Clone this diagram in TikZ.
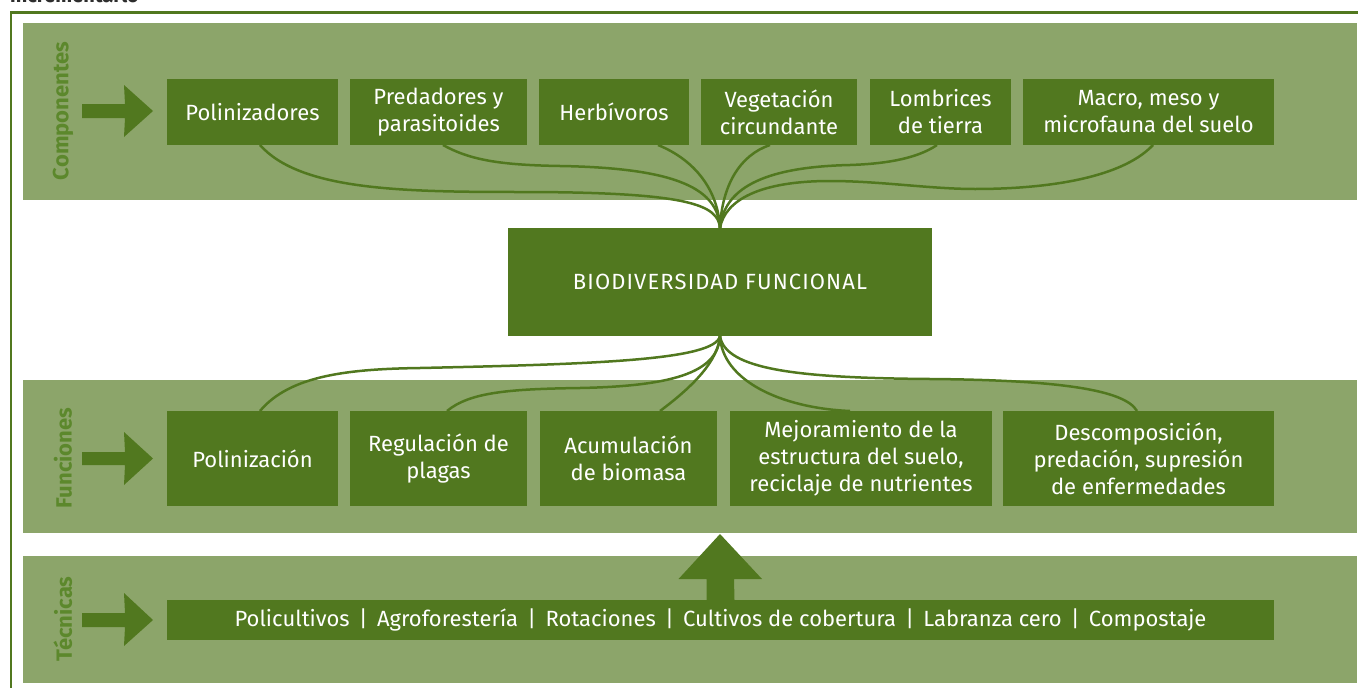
\documentclass[tikz,border=0pt]{standalone}
\usepackage{fontspec}
\setmainfont{Fira Sans}
\definecolor{dk}{RGB}{81,120,31}
\definecolor{bandc}{RGB}{140,165,106}
\definecolor{lbl}{RGB}{92,136,44}
\definecolor{cuttext}{RGB}{45,45,45}
\newcommand\sepbar{\hspace{0.42em}|\hspace{0.42em}}
\tikzset{
  box/.style={fill=dk, text=white, inner sep=0pt, outer sep=0pt, align=center,
    font=\fontsize{22}{27}\selectfont},
  bandbox/.style={fill=bandc, inner sep=0pt, outer sep=0pt},
  link/.style={draw=dk, line width=2.5pt},
  fatarrow/.style={fill=dk},
  side/.style={text=lbl, font=\bfseries\fontsize{22}{26}\selectfont, rotate=90, inner sep=0pt},
  frame/.style={draw=dk, line width=2.5pt}
}
\begin{document}
\begin{tikzpicture}[x=1pt,y=-1pt]
\useasboundingbox (0,0) rectangle (1358,688);
\clip (0,0) rectangle (1358,688);
% cut-off title
\node[anchor=base west, inner sep=0pt, text=cuttext, font=\bfseries\fontsize{20}{24}\selectfont] (title) at (10,2) {incrementarlo};
% frame
\draw[frame] (11,700) -- (11,12.5) -- (1370,12.5);
% bands
\node[bandbox, minimum width=1334pt, minimum height=177pt] (band1) at (690,111.5) {};
\node[bandbox, minimum width=1334pt, minimum height=153pt] (band2) at (690,456.5) {};
\node[bandbox, minimum width=1334pt, minimum height=127pt] (band3) at (690,619.5) {};
% side labels
\node[side] (lc) at (63,111) {Componentes};
\node[side] (lf) at (63,458) {Funciones};
\node[side] (lt) at (63,619) {Técnicas};
% side arrows
\fill[fatarrow] (82,104) -- (125,104) -- (124,85) -- (153,111) -- (124,137) -- (125,118) -- (82,118) -- cycle;
\fill[fatarrow] (82,452) -- (125,452) -- (124,432) -- (153,458.5) -- (124,485) -- (125,465) -- (82,465) -- cycle;
\fill[fatarrow] (82,613) -- (125,613) -- (124,593) -- (153,620) -- (124,646) -- (125,627) -- (82,627) -- cycle;
% component boxes
\node[box, minimum width=171pt, minimum height=66pt] (c1) at (252.5,112) {Polinizadores};
\node[box, minimum width=177pt, minimum height=66pt] (c2) at (438.5,112) {Predadores y\\parasitoides};
\node[box, minimum width=150pt, minimum height=66pt] (c3) at (614,112) {Herbívoros};
\node[box, minimum width=156pt, minimum height=66pt] (c4) at (779,112) {Vegetación\\circundante};
\node[box, minimum width=141pt, minimum height=66pt] (c5) at (940.5,112) {Lombrices\\de tierra};
\node[box, minimum width=251pt, minimum height=66pt] (c6) at (1148.5,112) {Macro, meso y\\microfauna del suelo};
% central box
\node[box, minimum width=424pt, minimum height=108pt, font=\fontsize{22}{27}\selectfont\addfontfeatures{LetterSpace=5}] (bio) at (720,282) {BIODIVERSIDAD FUNCIONAL};
% function boxes
\node[box, minimum width=171pt, minimum height=95pt] (f1) at (252.5,458.5) {Polinización};
\node[box, minimum width=177pt, minimum height=95pt] (f2) at (438.5,458.5) {Regulación de\\plagas};
\node[box, minimum width=177pt, minimum height=95pt] (f3) at (628.5,458.5) {Acumulación\\de biomasa};
\node[box, minimum width=262pt, minimum height=95pt] (f4) at (861,458.5) {Mejoramiento de la\\estructura del suelo,\\reciclaje de nutrientes};
\node[box, minimum width=271pt, minimum height=95pt] (f5) at (1138.5,458.5) {Descomposición,\\predación, supresión\\de enfermedades};
% techniques box
\node[box, minimum width=1107pt, minimum height=40pt] (tec) at (720.5,620) {Policultivos\sepbar Agroforestería\sepbar Rotaciones\sepbar Cultivos de cobertura\sepbar Labranza cero\sepbar Compostaje};
% up arrow
\fill[fatarrow] ([xshift=-14pt]tec.north) -- ++(0,-21) -- ++(-28,0) -- (720,534) -- (762,579) -- (734,579) -- ([xshift=14pt]tec.north) -- cycle;
% top connectors
\draw[link] ([xshift=7.5pt]c1.south) .. controls (300,190) and (400,192) .. (520,192) .. controls (690,192) and (718,205) .. (bio.north);
\draw[link] ([xshift=4.5pt]c2.south) .. controls (470,160) and (500,165) .. (560,166) .. controls (680,168) and (718,190) .. (bio.north);
\draw[link] ([xshift=44pt]c3.south) .. controls (695,160) and (718,190) .. (bio.north);
\draw[link] ([xshift=-9pt]c4.south) .. controls (740,155) and (722,185) .. (bio.north);
\draw[link] ([xshift=-3.5pt]c5.south) .. controls (915,160) and (880,164) .. (850,165) .. controls (760,167) and (724,190) .. (bio.north);
\draw[link] ([xshift=4.5pt]c6.south) .. controls (1120,180) and (1040,189) .. (975,189) .. controls (930,189) and (880,181) .. (830,181) .. controls (760,181) and (725,200) .. (bio.north);
% bottom connectors
\draw[link] (bio.south) .. controls (715,360) and (600,364) .. (420,368) .. controls (350,369) and (290,375) .. ([xshift=7.5pt]f1.north);
\draw[link] (bio.south) .. controls (718,370) and (680,386) .. (580,388) .. controls (510,389) and (470,392) .. ([xshift=8.5pt]f2.north);
\draw[link] (bio.south) .. controls (718,360) and (695,385) .. ([xshift=31.5pt]f3.north);
\draw[link] (bio.south) .. controls (722,380) and (780,408) .. ([xshift=-11pt]f4.north);
\draw[link] (bio.south) .. controls (725,370) and (800,378) .. (930,379) .. controls (1060,380) and (1125,390) .. ([xshift=-1.5pt]f5.north);
\end{tikzpicture}
\end{document}
